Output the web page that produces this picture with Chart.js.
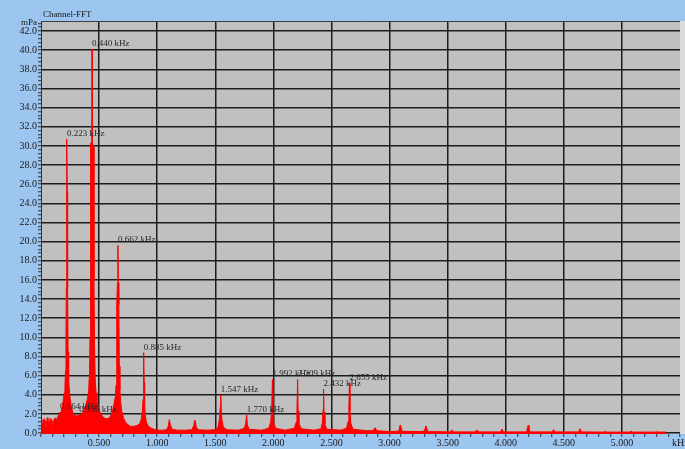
<!DOCTYPE html>
<html>
<head>
<meta charset="utf-8">
<title>Channel-FFT</title>
<script src="https://cdn.jsdelivr.net/npm/chart.js@4.4.1/dist/chart.umd.min.js"></script>
<style>
  html, body { margin: 0; padding: 0; background: #9cc5f0; }
  #wrap { width: 685px; height: 449px; }
</style>
</head>
<body>
<div id="wrap"><canvas id="fft" width="685" height="449"></canvas></div>
<script>
// spectrum: frequency (kHz) / amplitude (mPa)
const freqs = [
  0.000, 0.006, 0.012, 0.018, 0.024, 0.030, 0.036, 0.042, 0.048, 0.054,
  0.060, 0.066, 0.072, 0.078, 0.084, 0.090, 0.096, 0.102, 0.108, 0.114,
  0.120, 0.126, 0.132, 0.140, 0.148, 0.156, 0.164, 0.170, 0.178, 0.186,
  0.194, 0.200, 0.206, 0.211, 0.215, 0.218, 0.220, 0.223, 0.226, 0.229,
  0.233, 0.238, 0.245, 0.252, 0.260, 0.270, 0.280, 0.295, 0.310, 0.320,
  0.330, 0.340, 0.355, 0.370, 0.385, 0.400, 0.410, 0.418, 0.422, 0.425,
  0.429, 0.438, 0.440, 0.442, 0.452, 0.456, 0.461, 0.467, 0.474, 0.482,
  0.492, 0.505, 0.520, 0.540, 0.560, 0.580, 0.600, 0.615, 0.628, 0.640,
  0.646, 0.650, 0.654, 0.658, 0.662, 0.666, 0.670, 0.674, 0.679, 0.686,
  0.695, 0.710, 0.725, 0.745, 0.770, 0.800, 0.830, 0.850, 0.862, 0.872,
  0.878, 0.882, 0.885, 0.888, 0.892, 0.898, 0.908, 0.925, 0.950, 0.980,
  1.020, 1.060, 1.085, 1.097, 1.104, 1.109, 1.115, 1.128, 1.170, 1.250,
  1.300, 1.315, 1.322, 1.328, 1.335, 1.350, 1.420, 1.500, 1.525, 1.537,
  1.543, 1.547, 1.551, 1.558, 1.570, 1.600, 1.700, 1.750, 1.762, 1.770,
  1.776, 1.790, 1.900, 1.960, 1.978, 1.986, 1.992, 1.996, 2.004, 2.020,
  2.100, 2.180, 2.196, 2.203, 2.209, 2.213, 2.220, 2.240, 2.350, 2.410,
  2.422, 2.428, 2.432, 2.436, 2.444, 2.460, 2.580, 2.630, 2.643, 2.650,
  2.655, 2.659, 2.667, 2.685, 2.800, 2.860, 2.870, 2.878, 2.888, 3.000,
  3.080, 3.088, 3.093, 3.099, 3.110, 3.290, 3.305, 3.312, 3.318, 3.330,
  3.525, 3.533, 3.540, 3.548, 3.740, 3.748, 3.756, 3.764, 3.955, 3.964,
  3.970, 3.978, 4.180, 4.188, 4.193, 4.200, 4.210, 4.400, 4.408, 4.414,
  4.420, 4.630, 4.636, 4.641, 4.648, 4.850, 4.856, 4.862, 4.868, 5.070,
  5.076, 5.082, 5.090, 5.294, 5.300, 5.306, 5.380
];
const amps = [
  0.2, 1.2, 0.5, 1.4, 0.7, 1.5, 0.6, 1.3, 0.8, 1.6,
  0.7, 1.2, 0.6, 1.5, 0.9, 1.4, 0.7, 1.3, 0.9, 1.5,
  1.1, 1.6, 1.2, 1.6, 1.8, 2.0, 2.2, 2.1, 2.4, 3.0,
  3.6, 4.2, 4.8, 6.5, 10.0, 15.2, 25.2, 30.7, 25.2, 15.2,
  8.5, 5.5, 4.3, 3.5, 2.8, 2.3, 2.0, 1.8, 1.8, 1.8,
  1.9, 1.9, 2.1, 2.4, 2.9, 3.6, 4.3, 6.5, 10.0, 16.3,
  30.3, 30.3, 40.1, 30.3, 29.9, 16.0, 9.0, 5.5, 4.2, 3.4,
  2.8, 2.3, 1.9, 1.6, 1.5, 1.5, 1.8, 2.3, 3.0, 3.8,
  5.0, 6.5, 13.4, 15.7, 19.6, 15.7, 13.4, 7.0, 4.5, 3.2,
  2.3, 1.6, 1.2, 0.9, 0.7, 0.7, 0.8, 1.0, 1.4, 2.2,
  3.5, 5.3, 8.4, 5.3, 3.0, 1.8, 1.1, 0.7, 0.5, 0.35,
  0.3, 0.3, 0.4, 0.8, 1.4, 1.4, 0.8, 0.4, 0.3, 0.3,
  0.35, 0.8, 1.3, 1.3, 0.7, 0.35, 0.3, 0.35, 0.6, 1.6,
  2.7, 4.0, 2.6, 1.3, 0.6, 0.35, 0.3, 0.5, 1.0, 1.9,
  0.9, 0.4, 0.3, 0.5, 1.2, 2.6, 5.6, 2.5, 1.1, 0.5,
  0.3, 0.5, 1.1, 2.3, 5.6, 2.3, 1.0, 0.45, 0.3, 0.45,
  1.1, 2.4, 4.6, 2.2, 0.9, 0.4, 0.3, 0.5, 1.2, 2.6,
  5.2, 2.4, 1.0, 0.4, 0.25, 0.25, 0.5, 0.55, 0.25, 0.15,
  0.2, 0.7, 0.85, 0.6, 0.18, 0.15, 0.4, 0.75, 0.6, 0.15,
  0.12, 0.3, 0.3, 0.12, 0.12, 0.3, 0.3, 0.12, 0.12, 0.35,
  0.4, 0.12, 0.12, 0.6, 0.8, 0.5, 0.12, 0.12, 0.3, 0.35,
  0.12, 0.12, 0.4, 0.45, 0.12, 0.1, 0.2, 0.2, 0.1, 0.1,
  0.2, 0.2, 0.1, 0.1, 0.15, 0.1, 0.1
];

// marked peaks (kHz)
const peakFreqs = [0.164, 0.223, 0.330, 0.440, 0.662, 0.885, 1.547, 1.770, 1.992, 2.209, 2.432, 2.655];

const yMin = -0.1, yMax = 43.05;
const xMin = 0, xMax = 5.5;

const serif = '"Liberation Serif", "Times New Roman", serif';
const gridDark = '#1c1c1c';
const none = 'rgba(0,0,0,0)';

function onStep(v, step) {
  const r = v / step;
  return Math.abs(r - Math.round(r)) < 1e-6;
}

const backdrop = {
  id: 'backdrop',
  beforeDraw(chart) {
    const { ctx, chartArea: a } = chart;
    ctx.save();
    ctx.fillStyle = '#9cc5f0';
    ctx.fillRect(0, 0, chart.width, chart.height);
    ctx.fillStyle = '#c0c0c0';
    ctx.fillRect(a.left, a.top, a.right - a.left, a.bottom - a.top);
    ctx.fillStyle = '#dcdcdc';
    ctx.fillRect(a.right, a.top, chart.width - a.right, a.bottom - a.top);
    ctx.restore();
  },
  afterDraw(chart) {
    const { ctx, chartArea: a } = chart;
    ctx.save();
    ctx.strokeStyle = '#404040';
    ctx.lineWidth = 1;
    ctx.beginPath();
    ctx.moveTo(a.left, a.top + 0.5);
    ctx.lineTo(a.right, a.top + 0.5);
    ctx.stroke();
    ctx.fillStyle = '#1a1a1a';
    ctx.font = '9px ' + serif;
    ctx.textBaseline = 'alphabetic';
    ctx.textAlign = 'left';
    ctx.fillText('Channel-FFT', 43, 17);
    ctx.fillText('mPa', 21, 25);
    ctx.font = '10px ' + serif;
    ctx.fillText('kHz', 672, 446);
    ctx.restore();
  }
};

const peakLabels = {
  id: 'peakLabels',
  afterDatasetsDraw(chart) {
    const { ctx } = chart;
    const xs = chart.scales.x, ys = chart.scales.y;
    ctx.save();
    ctx.font = '9px ' + serif;
    ctx.fillStyle = '#262626';
    ctx.textAlign = 'left';
    ctx.textBaseline = 'alphabetic';
    peakFreqs.forEach(f => {
      const i = freqs.indexOf(f);
      if (i < 0) return;
      const px = xs.getPixelForValue(f);
      const py = ys.getPixelForValue(amps[i]);
      ctx.fillText(f.toFixed(3) + ' kHz', px, py - 3);
    });
    ctx.restore();
  }
};

new Chart(document.getElementById('fft'), {
  type: 'line',
  data: {
    datasets: [{
      data: freqs.map((f, i) => ({ x: f, y: amps[i] })),
      borderColor: '#ff0000',
      backgroundColor: '#ff0000',
      borderWidth: 1,
      pointRadius: 0,
      tension: 0,
      fill: 'start'
    }]
  },
  options: {
    responsive: false,
    animation: false,
    devicePixelRatio: 1,
    layout: { padding: { left: 0, right: 5, top: 21, bottom: 0 } },
    plugins: { legend: { display: false }, tooltip: { enabled: false } },
    scales: {
      x: {
        type: 'linear',
        min: xMin,
        max: xMax,
        afterFit: s => { s.height = 15; },
        border: { display: false },
        grid: {
          color: c => (onStep(c.tick.value, 0.5) && c.tick.value > xMin && c.tick.value < xMax) ? gridDark : none,
          lineWidth: 1.5,
          tickColor: '#303030',
          tickWidth: 1,
          tickLength: 3
        },
        ticks: {
          stepSize: 0.1,
          autoSkip: false,
          includeBounds: false,
          maxRotation: 0,
          padding: 0,
          color: '#1a1a1a',
          font: { family: serif, size: 10 },
          callback: v => (onStep(v, 0.5) && v > xMin && v < xMax) ? v.toFixed(3) : ''
        }
      },
      y: {
        min: yMin,
        max: yMax,
        afterFit: s => { s.width = 41; },
        border: { display: true, color: '#303030', width: 1 },
        grid: {
          color: c => onStep(c.tick.value, 2) ? gridDark : none,
          lineWidth: 1.5,
          tickColor: '#303030',
          tickWidth: 1,
          tickLength: 3
        },
        ticks: {
          stepSize: 0.4,
          autoSkip: false,
          includeBounds: false,
          padding: 1,
          color: '#1a1a1a',
          font: { family: serif, size: 10 },
          callback: v => onStep(v, 2) ? v.toFixed(1) : ''
        }
      }
    }
  },
  plugins: [backdrop, peakLabels]
});
</script>
</body>
</html>
